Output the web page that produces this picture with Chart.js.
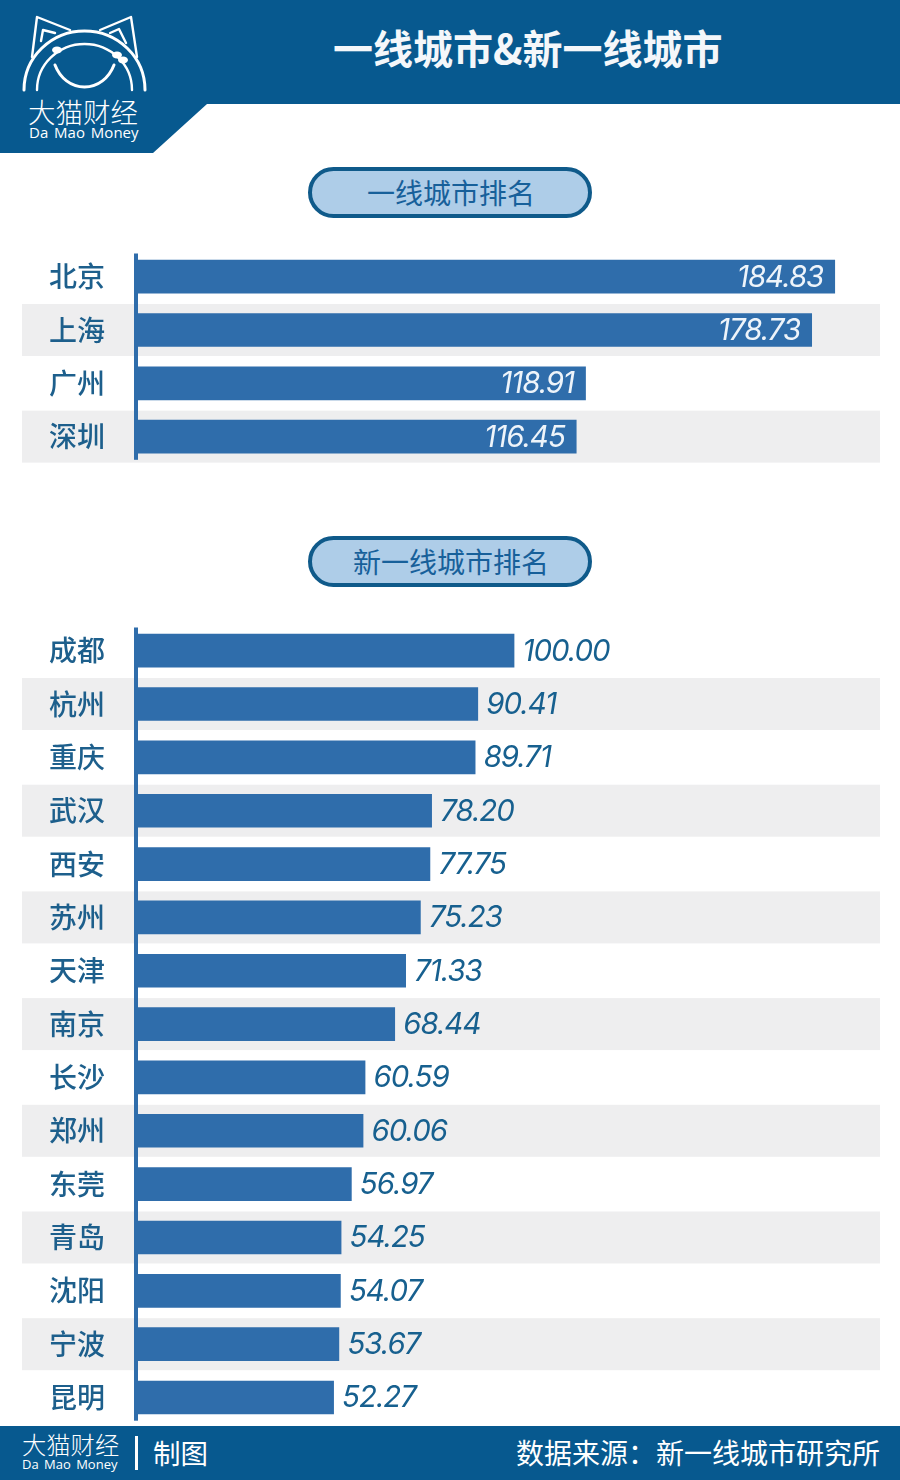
<!DOCTYPE html>
<html lang="zh"><head><meta charset="utf-8">
<script src="https://cdn.jsdelivr.net/npm/chart.js@4"></script>
<style>
html,body{margin:0;padding:0;background:#fff}
#page{position:relative;width:900px;height:1480px;overflow:hidden;background:#fff;font-family:"Noto Sans CJK SC","Noto Sans",sans-serif}
#page>*{position:absolute}
canvas{position:absolute;left:0}
.pill{left:308px;width:284px;box-sizing:border-box;height:51px;border:4px solid #0f5a8a;border-radius:26px;background:#aecde8;color:#17609a;font-size:28px;line-height:43px;text-align:center;font-weight:400;text-indent:2px}
.t{white-space:nowrap;color:#fff}
</style></head><body>
<div id="page">
<svg style="left:0;top:0" width="900" height="160">
<polygon points="0,0 900,0 900,104 207,104 153,153 0,153" fill="#07598f"/>
<g fill="none" stroke="#fff" stroke-width="2.4" stroke-linejoin="round" stroke-linecap="round">
<path d="M24 90 A60.5 59 0 0 1 145 90" stroke-width="3"/>
<path d="M37 90 A47.5 46 0 0 1 132 90"/>
<path d="M55 65 C60 78 71 87 84.5 87 C98 87 109 78 114 65" stroke-width="3"/>
<path d="M32 57 L37 17 L70 30"/><path d="M137 57 L131 17 L100 30"/>
<path d="M41 41 L43 30 L55 33"/><path d="M126 43 L119 29 L110 33"/>
</g>
<g fill="#fff"><ellipse cx="57" cy="50" rx="5" ry="3.5"/><ellipse cx="117" cy="55" rx="5" ry="3.5"/><ellipse cx="123" cy="60" rx="5" ry="3.5"/></g>
</svg>
<div class="t" style="left:28px;top:92px;font-size:27.5px;line-height:38px;font-weight:300">大猫财经</div>
<div class="t" style="left:29px;top:122px;font-size:15px;line-height:20px;font-family:'Open Sans';word-spacing:2px">Da Mao Money</div>
<div class="t" style="left:333px;top:19px;font-size:40px;line-height:56px;font-weight:700;color:#f4f7fa">一线城市&amp;新一线城市</div>
<div class="pill" style="top:167px">一线城市排名</div>
<div class="pill" style="top:536px">新一线城市排名</div>
<canvas id="c1" width="900" height="234" style="top:240px"></canvas>
<canvas id="c2" width="900" height="820" style="top:614px"></canvas>
<div style="left:0;top:1426px;width:900px;height:54px;background:#07598f"></div>
<div class="t" style="left:22px;top:1427px;font-size:24.3px;line-height:34px;font-weight:300">大猫财经</div>
<div class="t" style="left:22px;top:1456px;font-size:13px;line-height:17px;font-family:'Open Sans';word-spacing:2px">Da Mao Money</div>
<div style="left:135px;top:1436px;width:3px;height:34px;background:#fff"></div>
<div class="t" style="left:153px;top:1432px;font-size:27.5px;line-height:40px">制图</div>
<div class="t" style="right:20px;top:1432px;font-size:28px;line-height:40px">数据来源：新一线城市研究所</div>
</div>
<script>
const tier1Cities = ["北京","上海","广州","深圳"];
const tier1Values = [184.83,178.73,118.91,116.45];
const newTier1Cities = ["成都","杭州","重庆","武汉","西安","苏州","天津","南京","长沙","郑州","东莞","青岛","沈阳","宁波","昆明"];
const newTier1Values = [100.00,90.41,89.71,78.20,77.75,75.23,71.33,68.44,60.59,60.06,56.97,54.25,54.07,53.67,52.27];

const BAR='#2f6dab', INK='#1d5f8c', VAL='#17608f', BAND='#eeeeef';
const dec=()=>({
  id:'dec',
  beforeDraw(c){
    const {ctx,chartArea:a,scales:{y}}=c;
    ctx.save();ctx.fillStyle=BAND;
    c.data.labels.forEach((l,i)=>{ if(i%2===1){const p=y.getPixelForTick(i);ctx.fillRect(22,p-26,858,52);} });
    ctx.fillStyle=BAR;ctx.fillRect(a.left-2,a.top+3.5,4,a.bottom-a.top-7);
    ctx.restore();
  },
  afterDatasetsDraw(c){
    const {ctx}=c,meta=c.getDatasetMeta(0),o=c.options.plugins.dec;
    ctx.save();ctx.font='italic 400 29.5px Inter';ctx.letterSpacing='-1.05px';ctx.textBaseline='middle';
    ctx.textAlign=o.inside?'right':'left';ctx.fillStyle=o.inside?'#eef4fa':VAL;
    meta.data.forEach((b,i)=>{
      const v=c.data.datasets[0].data[i].toFixed(2);
      ctx.fillText(v,b.x+(o.inside?-11.5:8.5),b.y+1);
    });
    ctx.restore();
  }
});
function make(id,labels,values,inside,padB){
  return new Chart(document.getElementById(id),{
    type:'bar',
    data:{labels,datasets:[{data:values,backgroundColor:BAR,barThickness:33,borderWidth:0}]},
    plugins:[dec()],
    options:{
      indexAxis:'y',responsive:false,animation:false,
      layout:{padding:{top:10,bottom:padB,right:20,left:0}},
      plugins:{legend:{display:false},tooltip:{enabled:false},dec:{inside}},
      scales:{
        x:{type:'linear',min:0,max:196.8,display:false},
        y:{type:'category',
           grid:{display:false},border:{display:false},
           afterFit(s){s.width=136;s.paddingTop=0;s.paddingBottom=0;},
           ticks:{autoSkip:false,padding:23,color:INK,font:{family:'"Noto Sans CJK SC"',size:28,weight:500}}}
      }
    }
  });
}
make('c1',tier1Cities,tier1Values,true,10.7);
make('c2',newTier1Cities,newTier1Values,false,9.8);
</script>
</body></html>
